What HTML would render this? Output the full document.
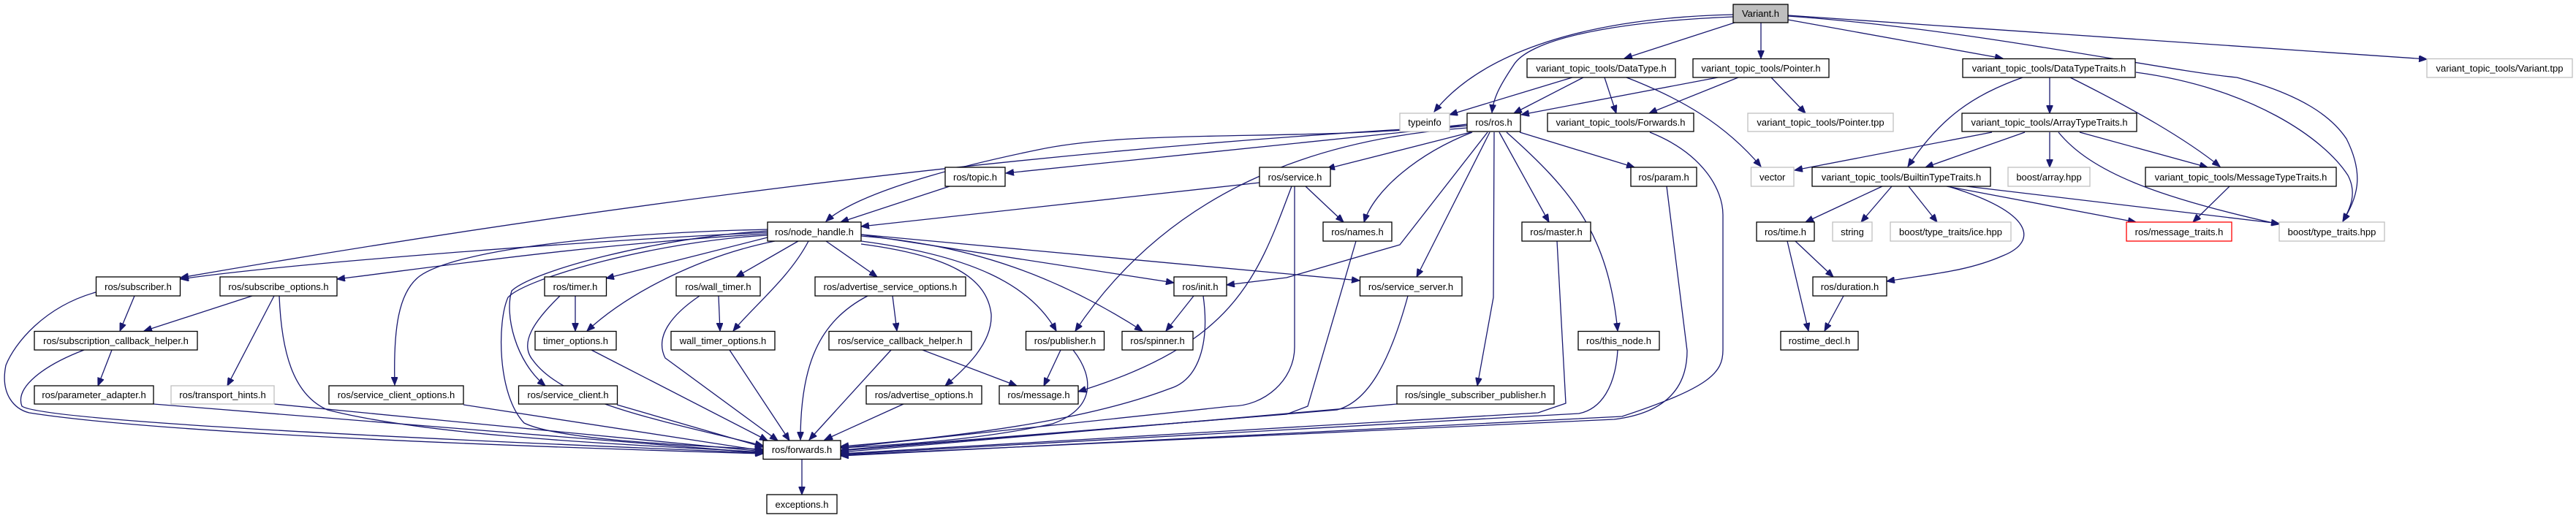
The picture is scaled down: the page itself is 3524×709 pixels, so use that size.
<!DOCTYPE html>
<html><head><meta charset="utf-8"><style>
html,body{margin:0;padding:0;background:#fff;}
svg{display:block;}
text{font-family:"Liberation Sans",sans-serif;font-size:13px;text-anchor:middle;fill:#000;}
.e{fill:none;stroke:#191970;stroke-width:1.3;stroke-linejoin:round;marker-end:url(#a);}
.n{fill:#fff;stroke:#000;stroke-width:1.3;}
.g{fill:#fff;stroke:#bfbfbf;stroke-width:1.3;}
.r{fill:#fff;stroke:#ff0000;stroke-width:1.3;}
</style></head><body>
<svg width="3524" height="709" viewBox="0 0 3524 709" xmlns="http://www.w3.org/2000/svg">
<defs><marker id="a" markerUnits="userSpaceOnUse" markerWidth="12" markerHeight="9" refX="11" refY="4.5" orient="auto"><path d="M0,0 L11,4.5 L0,9 z" fill="#191970" stroke="#191970"/></marker></defs>
<!-- edges -->
<g>
<path class="e" d="M2371,20 C2150,25 2020,80 1962,153"/>
<path class="e" d="M2371,23 C2200,30 2090,55 2070,90 C2050,120 2043,135 2041,154"/>
<path class="e" d="M2373,31 L2222,80"/>
<path class="e" d="M2409,31 L2409,80"/>
<path class="e" d="M2446,27 L2740,80"/>
<path class="e" d="M2446,22 C2700,40 2950,95 3060,106 C3150,130 3190,160 3210,190 C3235,240 3225,270 3205,303"/>
<path class="e" d="M2446,21 L3320,81"/>
<path class="e" d="M2151,106 L1983,157"/>
<path class="e" d="M2166,106 L2071,155"/>
<path class="e" d="M2195,106 L2211,155"/>
<path class="e" d="M2225,106 C2300,135 2360,170 2409,228"/>
<path class="e" d="M2350,106 L2081,157"/>
<path class="e" d="M2378,106 L2256,155"/>
<path class="e" d="M2423,106 L2470,155"/>
<path class="e" d="M2767,106 C2700,130 2655,160 2610,228"/>
<path class="e" d="M2804,106 L2804,155"/>
<path class="e" d="M2832,106 C2920,150 2990,190 3037,228"/>
<path class="e" d="M2922,99 C3080,120 3180,190 3212,240 C3225,265 3215,285 3205,303"/>
<path class="e" d="M2725,181 L2455,233"/>
<path class="e" d="M2770,181 L2634,229"/>
<path class="e" d="M2804,181 L2804,229"/>
<path class="e" d="M2845,181 L3020,229"/>
<path class="e" d="M2816,181 C2860,235 2950,270 3118,307"/>
<path class="e" d="M2575,255 L2470,304"/>
<path class="e" d="M2588,255 L2546,304"/>
<path class="e" d="M2611,255 L2650,304"/>
<path class="e" d="M2663,255 L2922,304"/>
<path class="e" d="M2690,255 L3118,306"/>
<path class="e" d="M2668,256 C2780,290 2790,330 2740,350 C2690,372 2640,375 2581,385"/>
<path class="e" d="M3050,255 L3000,304"/>
<path class="e" d="M2456,330 L2508,379"/>
<path class="e" d="M2445,330 L2474,453"/>
<path class="e" d="M2522,405 L2496,453"/>
<path class="e" d="M2007,170 C1800,195 1560,175 1420,205 C1250,240 1160,275 1130,303"/>
<path class="e" d="M2007,172 L1376,237"/>
<path class="e" d="M2007,172 Q1200,215 247,380"/>
<path class="e" d="M2012,181 L1815,231"/>
<path class="e" d="M2014,181 C1940,210 1880,260 1866,304"/>
<path class="e" d="M2035,181 L1915,335 L1760,380 L1678,390"/>
<path class="e" d="M2007,175 C1800,190 1600,260 1471,453"/>
<path class="e" d="M2038,181 L1938,379"/>
<path class="e" d="M2044,181 L2043,407 L2021,528"/>
<path class="e" d="M2051,181 L2119,304"/>
<path class="e" d="M2061,181 C2150,260 2200,320 2213,453"/>
<path class="e" d="M2079,181 L2236,229"/>
<path class="e" d="M1723,250 L1178,310"/>
<path class="e" d="M1786,255 L1838,304"/>
<path class="e" d="M1767,255 C1720,380 1690,470 1475,536"/>
<path class="e" d="M1771,255 L1771,475 C1771,520 1730,556 1684,556 L1150,613"/>
<path class="e" d="M1299,255 L1150,304"/>
<path class="e" d="M1050,318 C800,330 400,360 247,382"/>
<path class="e" d="M1050,320 C800,335 600,365 461,382"/>
<path class="e" d="M1050,325 L829,381"/>
<path class="e" d="M1060,330 C960,350 860,400 803,453"/>
<path class="e" d="M1050,314 C800,320 620,345 574,378 C545,400 538,450 540,527"/>
<path class="e" d="M1050,316 C900,325 730,370 700,398 C690,430 705,495 746,528"/>
<path class="e" d="M1050,322 C900,330 720,380 695,407 C680,440 680,540 717,579 C760,600 900,608 1044,615"/>
<path class="e" d="M1092,330 L1007,379"/>
<path class="e" d="M1106,330 C1080,380 1030,420 1003,453"/>
<path class="e" d="M1130,330 L1200,379"/>
<path class="e" d="M1178,334 C1300,350 1350,380 1356,430 C1358,470 1320,505 1293,528"/>
<path class="e" d="M1178,330 C1330,350 1410,390 1445,453"/>
<path class="e" d="M1178,323 C1330,335 1450,380 1563,453"/>
<path class="e" d="M1178,321 L1606,387"/>
<path class="e" d="M1178,321 L1860,384"/>
<path class="e" d="M983,405 L985,453"/>
<path class="e" d="M957,405 C920,430 895,460 910,490 L1064,603"/>
<path class="e" d="M787,405 L787,453"/>
<path class="e" d="M766,405 C730,440 710,470 729,493 C770,550 900,575 1044,610"/>
<path class="e" d="M809,479 L1050,603"/>
<path class="e" d="M998,479 L1080,603"/>
<path class="e" d="M1221,405 L1227,453"/>
<path class="e" d="M1187,405 C1120,440 1095,500 1095,602"/>
<path class="e" d="M1219,479 L1107,602"/>
<path class="e" d="M1262,479 L1391,528"/>
<path class="e" d="M1236,553 L1128,602"/>
<path class="e" d="M1451,479 L1428,528"/>
<path class="e" d="M1468,479 C1500,520 1495,560 1440,580 C1350,600 1250,608 1150,613"/>
<path class="e" d="M1633,405 L1595,453"/>
<path class="e" d="M1646,405 C1655,470 1640,520 1600,532 C1500,570 1350,595 1150,611"/>
<path class="e" d="M634,554 L1044,617"/>
<path class="e" d="M844,554 L1044,612"/>
<path class="e" d="M210,553 L1044,620"/>
<path class="e" d="M375,553 L1044,618"/>
<path class="e" d="M153,479 L134,528"/>
<path class="e" d="M115,479 C60,500 20,530 30,556 C50,570 300,590 1044,620"/>
<path class="e" d="M184,405 L164,453"/>
<path class="e" d="M131,400 C60,420 20,470 8,500 C0,540 20,560 40,565 C200,590 600,608 1044,621"/>
<path class="e" d="M345,405 L197,453"/>
<path class="e" d="M375,405 L311,528"/>
<path class="e" d="M382,405 C385,480 400,540 448,561 C600,600 900,610 1044,619"/>
<path class="e" d="M1855,330 L1789,556 L1760,567 L1150,616"/>
<path class="e" d="M1926,405 C1900,500 1870,550 1829,561 L1150,617"/>
<path class="e" d="M1911,553 L1150,619"/>
<path class="e" d="M2130,330 L2142,552 L2104,565 L1150,621"/>
<path class="e" d="M2213,479 C2210,530 2190,560 2160,566 L1150,622"/>
<path class="e" d="M2280,255 L2308,480 C2308,530 2280,565 2208,574 L1150,623"/>
<path class="e" d="M2257,181 C2330,210 2357,260 2357,294 L2357,479 C2357,510 2340,530 2219,570 L1150,624"/>
<path class="e" d="M1097,628 L1097,677"/>
</g>
<!-- nodes -->
<g>
<rect x="2371" y="6" width="75" height="25" fill="#bfbfbf" stroke="#000" stroke-width="1.3"/><text x="2408.5" y="23">Variant.h</text>
<rect class="n" x="2089" y="80.5" width="203" height="25.5"/><text x="2190.5" y="98">variant_topic_tools/DataType.h</text>
<rect class="n" x="2316" y="80.5" width="186" height="25.5"/><text x="2409" y="98">variant_topic_tools/Pointer.h</text>
<rect class="n" x="2685" y="80.5" width="236" height="25.5"/><text x="2803" y="98">variant_topic_tools/DataTypeTraits.h</text>
<rect class="g" x="3320" y="80.5" width="199" height="25.5"/><text x="3419.5" y="98">variant_topic_tools/Variant.tpp</text>
<rect class="g" x="1915" y="155" width="68" height="25"/><text x="1949" y="172">typeinfo</text>
<rect class="n" x="2007" y="155" width="73" height="25"/><text x="2043.5" y="172">ros/ros.h</text>
<rect class="n" x="2117" y="155" width="200" height="25"/><text x="2217" y="172">variant_topic_tools/Forwards.h</text>
<rect class="g" x="2391" y="155" width="199" height="25"/><text x="2490.5" y="172">variant_topic_tools/Pointer.tpp</text>
<rect class="n" x="2684" y="155" width="239" height="25"/><text x="2803.5" y="172">variant_topic_tools/ArrayTypeTraits.h</text>
<rect class="n" x="1293" y="229" width="82" height="26"/><text x="1334" y="247">ros/topic.h</text>
<rect class="n" x="1723" y="229" width="97" height="26"/><text x="1771.5" y="247">ros/service.h</text>
<rect class="n" x="2231" y="229" width="90" height="26"/><text x="2276" y="247">ros/param.h</text>
<rect class="g" x="2395.5" y="229" width="58.5" height="26"/><text x="2424.7" y="247">vector</text>
<rect class="n" x="2479" y="229" width="244" height="26"/><text x="2601" y="247">variant_topic_tools/BuiltinTypeTraits.h</text>
<rect class="g" x="2747" y="229" width="112" height="26"/><text x="2803" y="247">boost/array.hpp</text>
<rect class="n" x="2935" y="229" width="261" height="26"/><text x="3065.5" y="247">variant_topic_tools/MessageTypeTraits.h</text>
<rect class="n" x="1050" y="304" width="128" height="26"/><text x="1114" y="322">ros/node_handle.h</text>
<rect class="n" x="1810" y="304" width="94" height="26"/><text x="1857" y="322">ros/names.h</text>
<rect class="n" x="2082" y="304" width="94" height="26"/><text x="2129" y="322">ros/master.h</text>
<rect class="n" x="2403" y="304" width="79" height="26"/><text x="2442.5" y="322">ros/time.h</text>
<rect class="g" x="2507" y="304" width="54" height="26"/><text x="2534" y="322">string</text>
<rect class="g" x="2586" y="304" width="165" height="26"/><text x="2668.5" y="322">boost/type_traits/ice.hpp</text>
<rect class="r" x="2909" y="304" width="144" height="26"/><text x="2981" y="322">ros/message_traits.h</text>
<rect class="g" x="3118" y="304" width="144" height="26"/><text x="3190" y="322">boost/type_traits.hpp</text>
<rect class="n" x="131.5" y="379" width="115" height="26"/><text x="189" y="397">ros/subscriber.h</text>
<rect class="n" x="301" y="379" width="160" height="26"/><text x="381" y="397">ros/subscribe_options.h</text>
<rect class="n" x="745" y="379" width="84.5" height="26"/><text x="787" y="397">ros/timer.h</text>
<rect class="n" x="925" y="379" width="115" height="26"/><text x="982.5" y="397">ros/wall_timer.h</text>
<rect class="n" x="1115" y="379" width="206" height="26"/><text x="1218" y="397">ros/advertise_service_options.h</text>
<rect class="n" x="1606" y="379" width="72" height="26"/><text x="1642" y="397">ros/init.h</text>
<rect class="n" x="1860.5" y="379" width="139.5" height="26"/><text x="1930" y="397">ros/service_server.h</text>
<rect class="n" x="2480" y="379" width="101" height="26"/><text x="2530.5" y="397">ros/duration.h</text>
<rect class="n" x="47" y="453.5" width="223" height="25.5"/><text x="158.5" y="471">ros/subscription_callback_helper.h</text>
<rect class="n" x="732" y="453.5" width="111" height="25.5"/><text x="787.5" y="471">timer_options.h</text>
<rect class="n" x="918" y="453.5" width="142" height="25.5"/><text x="989" y="471">wall_timer_options.h</text>
<rect class="n" x="1134" y="453.5" width="195" height="25.5"/><text x="1231.5" y="471">ros/service_callback_helper.h</text>
<rect class="n" x="1403.5" y="453.5" width="107" height="25.5"/><text x="1457" y="471">ros/publisher.h</text>
<rect class="n" x="1535" y="453.5" width="97" height="25.5"/><text x="1583.5" y="471">ros/spinner.h</text>
<rect class="n" x="2159" y="453.5" width="111" height="25.5"/><text x="2214.5" y="471">ros/this_node.h</text>
<rect class="n" x="2436" y="453.5" width="106" height="25.5"/><text x="2489" y="471">rostime_decl.h</text>
<rect class="n" x="47" y="528" width="163" height="25"/><text x="128.5" y="545">ros/parameter_adapter.h</text>
<rect class="g" x="234" y="528" width="141" height="25"/><text x="304.5" y="545">ros/transport_hints.h</text>
<rect class="n" x="450" y="528" width="184" height="25"/><text x="542" y="545">ros/service_client_options.h</text>
<rect class="n" x="709.5" y="528" width="135" height="25"/><text x="777" y="545">ros/service_client.h</text>
<rect class="n" x="1185" y="528" width="158" height="25"/><text x="1264" y="545">ros/advertise_options.h</text>
<rect class="n" x="1367" y="528" width="108" height="25"/><text x="1421" y="545">ros/message.h</text>
<rect class="n" x="1911" y="528" width="215" height="25"/><text x="2018.5" y="545">ros/single_subscriber_publisher.h</text>
<rect class="n" x="1044" y="603" width="106" height="25.5"/><text x="1097" y="620">ros/forwards.h</text>
<rect class="n" x="1049" y="677" width="96" height="26"/><text x="1097" y="695">exceptions.h</text>
</g>
</svg>
</body></html>
